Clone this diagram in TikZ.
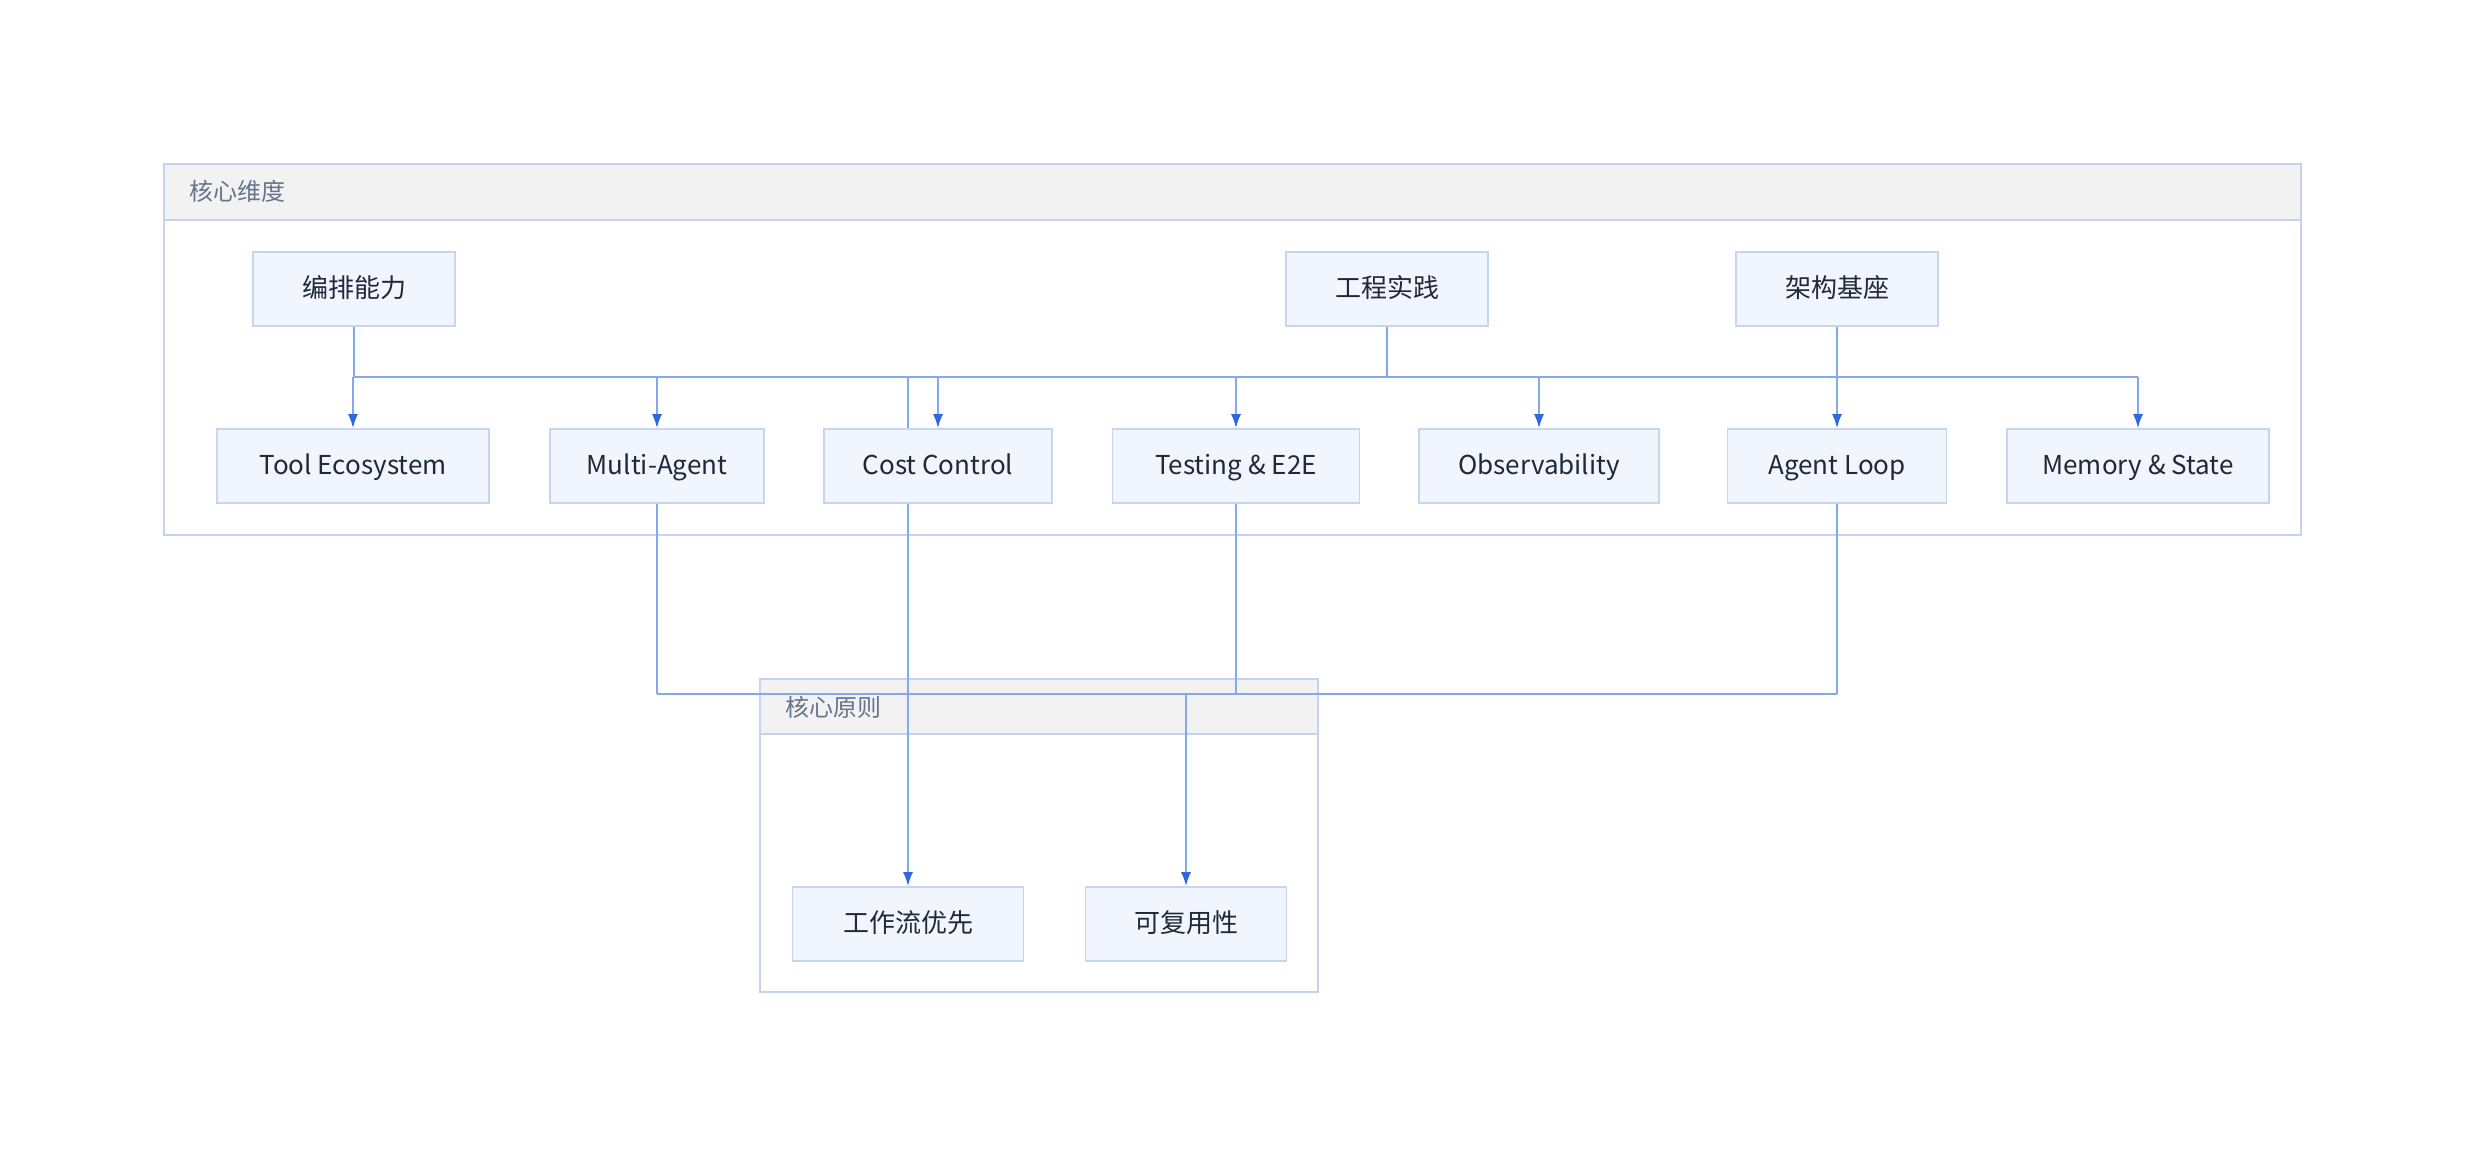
\documentclass[tikz,border=0pt]{standalone}
\usepackage{fontspec}
\setmainfont{Noto Sans CJK SC}
\usetikzlibrary{arrows.meta,backgrounds}

\definecolor{nodefill}{HTML}{F0F5FE}
\definecolor{nodeline}{HTML}{C5D6F3}
\definecolor{nodetext}{HTML}{1F2937}
\definecolor{grpline}{HTML}{C3D3F0}
\definecolor{grphead}{HTML}{F2F2F2}
\definecolor{grptext}{HTML}{66758C}
\definecolor{linkblue}{HTML}{84A8EE}
\definecolor{tipblue}{HTML}{2F68DE}

\tikzset{
  box/.style={draw=nodeline, fill=nodefill, line width=0.8pt, minimum height=37pt,
    inner sep=0pt, text height=8.8pt, text depth=0pt, text=nodetext,
    font=\fontsize{13}{15}\selectfont},
  grp/.style={draw=grpline, line width=0.8pt},
  grptitle/.style={anchor=west, inner sep=0pt, text height=8.5pt, text depth=0pt,
    text=grptext, font=\fontsize{12}{14}\selectfont},
  link/.style={draw=linkblue, line width=1pt},
  arr/.style={link, -{Latex[length=7pt,width=5pt,color=tipblue]}}
}

\begin{document}
\begin{tikzpicture}[x=0.5pt, y=-0.5pt]
\useasboundingbox (0,0) rectangle (2466,1158);

% top row
\node[box, minimum width=101pt] (bianpai) at (354, 289) {编排能力};
\node[box, minimum width=101pt] (gongcheng) at (1387, 289) {工程实践};
\node[box, minimum width=101pt] (jiagou) at (1837, 289) {架构基座};

% second row
\node[box, minimum width=136pt] (tool) at (353, 466) {Tool Ecosystem};
\node[box, minimum width=107pt] (multi) at (657, 466) {Multi-Agent};
\node[box, minimum width=114pt] (cost) at (938, 466) {Cost Control};
\node[box, minimum width=123.5pt] (testing) at (1236, 466) {Testing \& E2E};
\node[box, minimum width=120pt] (observ) at (1539, 466) {Observability};
\node[box, minimum width=109.5pt] (loop) at (1837, 466) {Agent Loop};
\node[box, minimum width=131pt] (memory) at (2138, 466) {Memory \& State};

% principles
\node[box, minimum width=115.5pt] (workflow) at (908, 924) {工作流优先};
\node[box, minimum width=100.5pt] (reuse) at (1186, 924) {可复用性};

\coordinate (topbus) at (0, 377);
\coordinate (lowbus) at (0, 694);

\begin{scope}[on background layer]
  \draw[grp, fill=grphead] (164,164) rectangle (2301,220);
  \draw[grp] (164,164) rectangle (2301,535);
  \draw[grp, fill=grphead] (760,679) rectangle (1318,734);
  \draw[grp] (760,679) rectangle (1318,992);
  \node[grptitle] (dimtitle) at (189,192) {核心维度};
  \node[grptitle] (printitle) at (785,708) {核心原则};

  \draw[link] (bianpai) -- (bianpai |- topbus);
  \draw[link] (gongcheng) -- (gongcheng |- topbus);
  \draw[link] (jiagou) -- (jiagou |- topbus);
  \draw[link] (bianpai |- topbus) -- (memory |- topbus);
  \foreach \n in {tool,multi,cost,testing,observ,loop,memory}
    \draw[arr] (\n |- topbus) -- (\n);
  \draw[arr] (workflow |- topbus) -- (workflow);

  \foreach \n in {multi,testing,loop}
    \draw[link] (\n) -- (\n |- lowbus);
  \draw[link] (multi |- lowbus) -- (loop |- lowbus);
  \draw[arr] (reuse |- lowbus) -- (reuse);
\end{scope}
\end{tikzpicture}
\end{document}
